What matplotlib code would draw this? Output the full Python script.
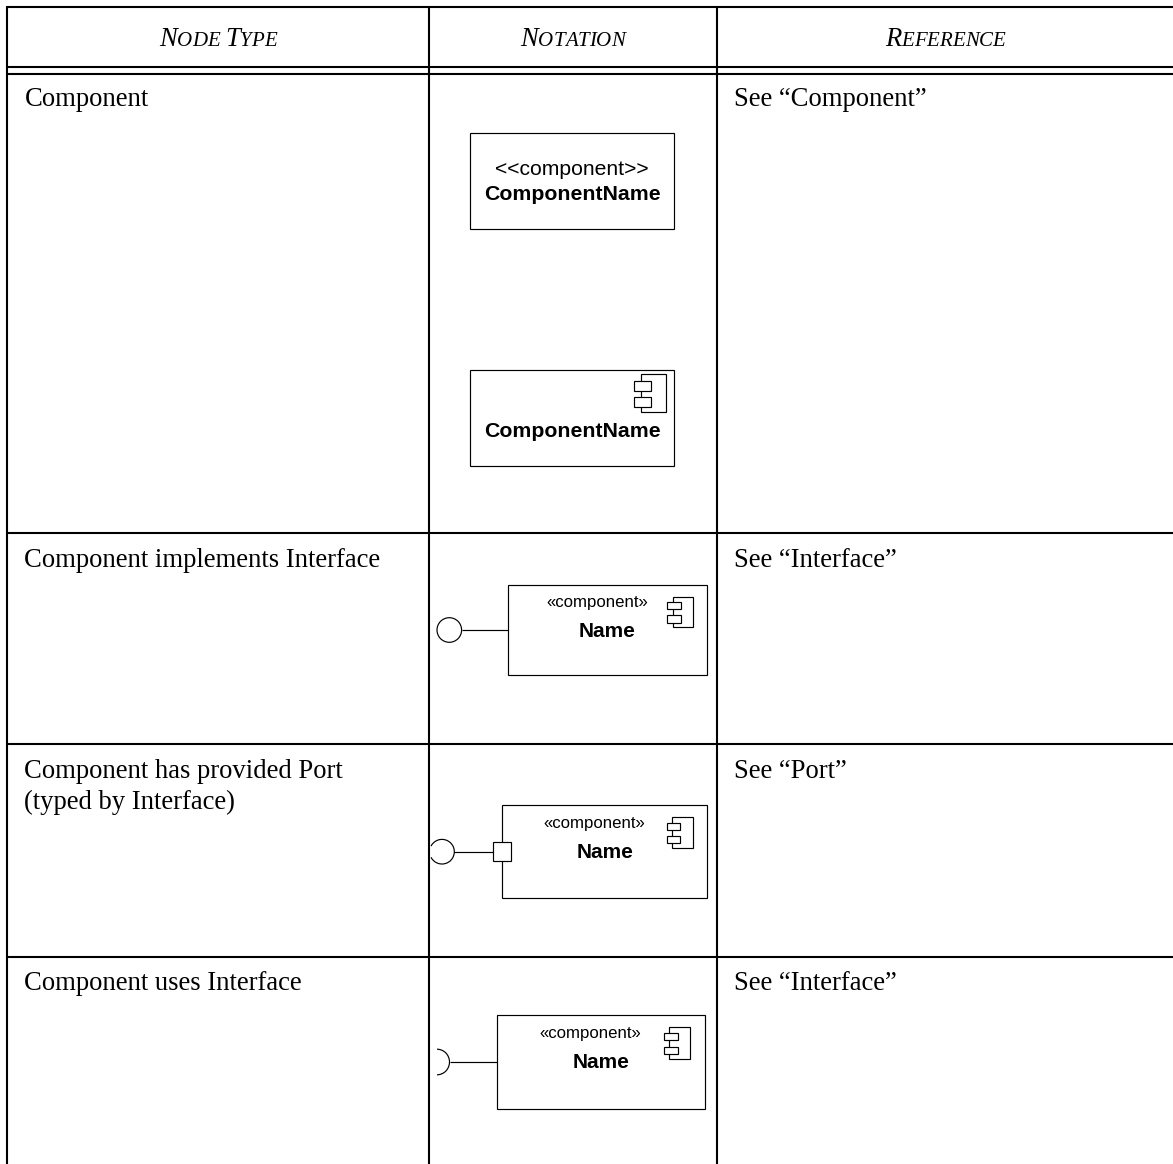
import matplotlib
matplotlib.use("Agg")
import matplotlib.pyplot as plt
from matplotlib.patches import Rectangle, Circle, Arc

# table content
headers = ["Node Type", "Notation", "Reference"]
node_types = ["Component", "Component implements Interface",
              "Component has provided Port\n(typed by Interface)", "Component uses Interface"]
references = ["See \u201cComponent\u201d", "See \u201cInterface\u201d", "See \u201cPort\u201d", "See \u201cInterface\u201d"]
stereo_long = "<<component>>"
stereo_short = "\u00abcomponent\u00bb"
long_name = "ComponentName"
short_name = "Name"

SERIF = "Liberation Serif"
SANS = "Liberation Sans"
INK = "#000000"
BODY = 19.2

fig = plt.figure(figsize=(11.73, 11.64), dpi=100)
ax = fig.add_axes([0, 0, 1, 1])
ax.set_xlim(0, 1173)
ax.set_ylim(1164, 0)
ax.axis("off")


def rule(x0, y0, x1, y1, lw=1.5):
    ax.plot([x0, x1], [y0, y1], color=INK, lw=lw, solid_capstyle="butt")


def thin(x0, y0, x1, y1):
    ax.plot([x0, x1], [y0, y1], color=INK, lw=0.85, solid_capstyle="butt")


def box(x0, y0, x1, y1):
    ax.add_patch(Rectangle((x0, y0), x1 - x0, y1 - y0, fill=True, fc="white", ec=INK, lw=0.85, zorder=2))


def icon(big, top, bottom):
    # big = x0, y0, x1, y1 of the tall rect, then the x range of the tabs
    x0, y0, x1, y1, tx0, tx1 = big
    ax.add_patch(Rectangle((x0, y0), x1 - x0, y1 - y0, fill=False, ec=INK, lw=0.85, zorder=3))
    for ty0, ty1 in (top, bottom):
        ax.add_patch(Rectangle((tx0, ty0), tx1 - tx0, ty1 - ty0, fc="white", ec=INK, lw=0.85, zorder=4))


def advance(s, size, renderer):
    # ink extent drops side bearings and spaces, so measure between two H
    probe = ax.text(0, 0, "HH", family=SERIF, style="italic", fontsize=size)
    base = probe.get_window_extent(renderer).width
    probe.set_text("H" + s + "H")
    w = probe.get_window_extent(renderer).width - base
    probe.remove()
    return w


def small_caps(xc, y, s, big=BODY, small=15.0):
    renderer = fig.canvas.get_renderer()
    parts = []
    for i, ch in enumerate(s):
        first = i == 0 or s[i - 1] == " "
        size = big if first else small
        t = ax.text(0, y, ch.upper(), family=SERIF, style="italic",
                    fontsize=size, va="baseline", ha="left", color=INK)
        parts.append((t, advance(ch.upper(), size, renderer)))
    total = sum(w for _, w in parts)
    x = xc - total / 2
    for t, w in parts:
        t.set_x(x)
        x += w


# table rules
rule(6.5, 6.7, 1173, 6.7)
rule(6.5, 66.7, 1173, 66.7)
rule(6.5, 73.7, 1173, 73.7)
for yy in [532.7, 744.3, 956.7]:
    rule(6.5, yy, 1173, yy)
for xx in [7.3, 429, 716.7]:
    rule(xx, 6, xx, 1164)

# header text
for xc, h in zip([218, 573, 945], headers):
    small_caps(xc, 45.7, h)

# first and third column text
for y, name, ref in zip([105.5, 566.7, 778.3, 990.5], node_types, references):
    lines = name.split("\n")
    ax.text(24.5, y, lines[0], family=SERIF, fontsize=BODY, va="baseline", color=INK)
    if len(lines) > 1:
        ax.text(24.5, y + 31, lines[1], family=SERIF, fontsize=BODY, va="baseline", color=INK)
    ax.text(734, y, ref, family=SERIF, fontsize=BODY, va="baseline", color=INK)

# component boxes with full name
box(470.3, 133, 674.3, 229)
ax.text(572, 175, stereo_long, family=SANS, fontsize=15.2, ha="center", va="baseline", color=INK)
ax.text(572, 199.5, long_name, family=SANS, weight="bold", fontsize=15.3, ha="center", va="baseline", color=INK)

box(470.3, 369.5, 674.3, 465.6)
icon((641, 374, 666, 412, 634, 651), (380.7, 390.7), (396.7, 406.7))
ax.text(572, 436.7, long_name, family=SANS, weight="bold", fontsize=15.3, ha="center", va="baseline", color=INK)

# implements interface
box(507.7, 585, 706.7, 675)
icon((673, 596.7, 692.7, 627.3, 667.3, 680.7), (602.3, 609.3), (615.3, 622.7))
ax.text(597.3, 606.7, stereo_short, family=SANS, fontsize=12.1, ha="center", va="baseline", color=INK)
ax.text(607, 636.7, short_name, family=SANS, weight="bold", fontsize=15, ha="center", va="baseline", color=INK)
ax.add_patch(Circle((449.3, 630), 12.3, fill=False, ec=INK, lw=0.85))
thin(461.6, 630, 507.7, 630)

# provided port, circle is cut by the column rule
box(502, 805, 707.3, 898.3)
icon((672.3, 817.3, 692.7, 848.3, 666.7, 680.3), (822.7, 830), (835.7, 843.3))
ax.text(594, 828, stereo_short, family=SANS, fontsize=12.1, ha="center", va="baseline", color=INK)
ax.text(604.7, 858, short_name, family=SANS, weight="bold", fontsize=15, ha="center", va="baseline", color=INK)
ax.add_patch(Arc((442, 851.7), 24.6, 24.6, theta1=-153, theta2=153, ec=INK, lw=0.85))
thin(454.3, 851.7, 493.3, 851.7)
ax.add_patch(Rectangle((493.3, 841.7), 17.7, 19.6, fc="white", ec=INK, lw=0.85, zorder=3))

# required interface
box(497.3, 1015, 705, 1109.3)
icon((669, 1027.3, 690.3, 1059.3, 663.7, 678), (1033.3, 1040), (1046.7, 1054.3))
ax.text(590, 1038, stereo_short, family=SANS, fontsize=12.1, ha="center", va="baseline", color=INK)
ax.text(601, 1068, short_name, family=SANS, weight="bold", fontsize=15, ha="center", va="baseline", color=INK)
ax.add_patch(Arc((437, 1062), 25, 25.6, theta1=-90, theta2=90, ec=INK, lw=0.85))
thin(449.5, 1062, 497.3, 1062)

fig.savefig("out.png", dpi=100)
